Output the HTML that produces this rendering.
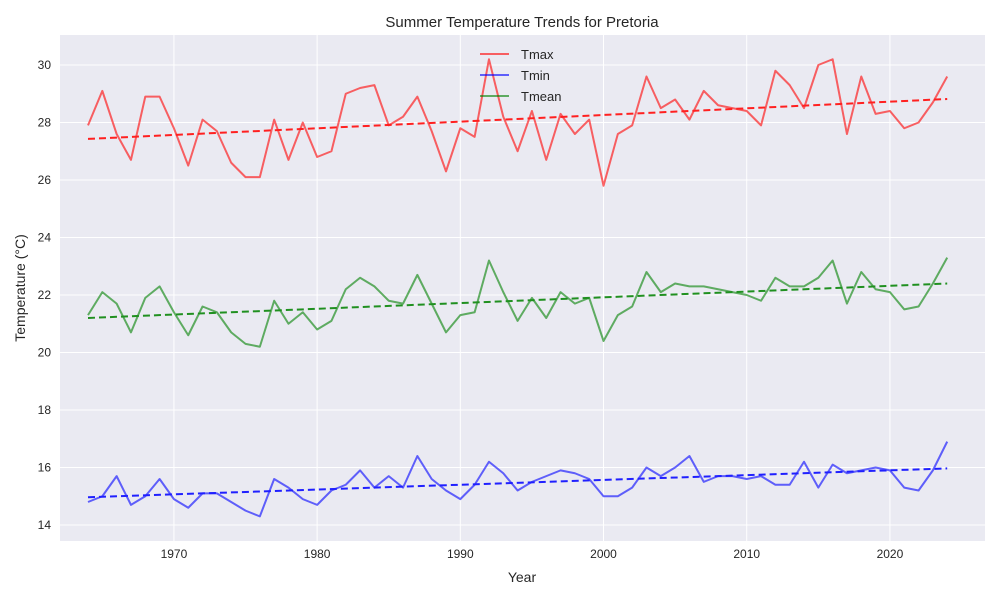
<!DOCTYPE html>
<html><head><meta charset="utf-8"><style>
body{margin:0;background:#fff;font-family:"Liberation Sans",sans-serif}
</style></head><body>
<svg id="chart" width="1000" height="600" xmlns="http://www.w3.org/2000/svg" font-family="Liberation Sans, sans-serif">
<rect x="60" y="35" width="925" height="506" fill="#eaeaf2"/>
<g id="grid"></g>
<g id="series"></g>
<g id="ticks"></g>
<text x="522" y="27" text-anchor="middle" font-size="15" fill="#262626">Summer Temperature Trends for Pretoria</text>
<text x="522" y="582" text-anchor="middle" font-size="14" fill="#262626">Year</text>
<text transform="translate(25,288) rotate(-90)" text-anchor="middle" font-size="14" fill="#262626">Temperature (°C)</text>
<g>
<g><line x1="480" y1="54" x2="509" y2="54" stroke="#ff0000" stroke-opacity="0.6" stroke-width="2"/><text x="521" y="59" font-size="13" fill="#262626">Tmax</text></g>
<g><line x1="480" y1="75" x2="509" y2="75" stroke="#0000ff" stroke-opacity="0.6" stroke-width="2"/><text x="521" y="80" font-size="13" fill="#262626">Tmin</text></g>
<g><line x1="480" y1="96" x2="509" y2="96" stroke="#008000" stroke-opacity="0.6" stroke-width="2"/><text x="521" y="101" font-size="13" fill="#262626">Tmean</text></g>
</g>
</svg>
<script>
const years=[];for(let y=1964;y<=2024;y++)years.push(y);
const tmax=[27.9,29.1,27.6,26.7,28.9,28.9,27.8,26.5,28.1,27.7,26.6,26.1,26.1,28.1,26.7,28.0,26.8,27.0,29.0,29.2,29.3,27.9,28.2,28.9,27.7,26.3,27.8,27.5,30.2,28.2,27.0,28.4,26.7,28.3,27.6,28.1,25.8,27.6,27.9,29.6,28.5,28.8,28.1,29.1,28.6,28.5,28.4,27.9,29.8,29.3,28.5,30.0,30.2,27.6,29.6,28.3,28.4,27.8,28.0,28.7,29.6];
const tmin=[14.8,15.0,15.7,14.7,15.0,15.6,14.9,14.6,15.1,15.1,14.8,14.5,14.3,15.6,15.3,14.9,14.7,15.2,15.4,15.9,15.3,15.7,15.3,16.4,15.6,15.2,14.9,15.4,16.2,15.8,15.2,15.5,15.7,15.9,15.8,15.6,15.0,15.0,15.3,16.0,15.7,16.0,16.4,15.5,15.7,15.7,15.6,15.7,15.4,15.4,16.2,15.3,16.1,15.8,15.9,16.0,15.9,15.3,15.2,15.9,16.9];
const tmean=[21.3,22.1,21.7,20.7,21.9,22.3,21.4,20.6,21.6,21.4,20.7,20.3,20.2,21.8,21.0,21.4,20.8,21.1,22.2,22.6,22.3,21.8,21.7,22.7,21.7,20.7,21.3,21.4,23.2,22.1,21.1,21.9,21.2,22.1,21.7,21.9,20.4,21.3,21.6,22.8,22.1,22.4,22.3,22.3,22.2,22.1,22.0,21.8,22.6,22.3,22.3,22.6,23.2,21.7,22.8,22.2,22.1,21.5,21.6,22.4,23.3];
const xTicks=[1970,1980,1990,2000,2010,2020];
const yTicks=[14,16,18,20,22,24,26,28,30];
const NS="http://www.w3.org/2000/svg";
const X=v=>88+(v-1964)*14.32;
const Y=v=>525-(v-14)*28.75;
function mk(tag,attrs,parent){const e=document.createElementNS(NS,tag);for(const k in attrs)e.setAttribute(k,attrs[k]);parent.appendChild(e);return e;}
const grid=document.getElementById('grid'),ticks=document.getElementById('ticks'),ser=document.getElementById('series');
xTicks.forEach(t=>{
 const l=mk('line',{x1:X(t),x2:X(t),y1:35,y2:541,stroke:'#fff','stroke-width':1},grid);
 
 
 const tx=mk('text',{x:X(t),y:558,'text-anchor':'middle','font-size':12,fill:'#262626'},ticks);tx.textContent=t;
 
 
});
yTicks.forEach(t=>{
 const l=mk('line',{x1:60,x2:985,y1:Y(t),y2:Y(t),stroke:'#fff','stroke-width':1},grid);
 
 
 const tx=mk('text',{x:51,y:Y(t)+4,'text-anchor':'end','font-size':12,fill:'#262626'},ticks);tx.textContent=t;
 
 
});
function fit(vals){const n=years.length;let sx=0,sy=0,sxx=0,sxy=0;years.forEach((x,i)=>{sx+=x;sy+=vals[i];sxx+=x*x;sxy+=x*vals[i];});const b=(n*sxy-sx*sy)/(n*sxx-sx*sx);const a=(sy-b*sx)/n;return x=>a+b*x;}
function draw(vals,col,dcol,name){
 const p=mk('polyline',{points:years.map((y,i)=>X(y)+','+Y(vals[i])).join(' '),fill:'none',stroke:col,'stroke-opacity':0.6,'stroke-width':2,'stroke-linejoin':'round'},ser);
 
 
 const f=fit(vals);
 const t=mk('line',{x1:X(1964),y1:Y(f(1964)),x2:X(2024),y2:Y(f(2024)),stroke:dcol,'stroke-width':2,'stroke-dasharray':'7,4'},ser);
 
 
}
draw(tmax,'#ff0000','#ff2020','tmax');
draw(tmin,'#0000ff','#2020ff','tmin');
draw(tmean,'#008000','#209020','tmean');
</script>
</body></html>
